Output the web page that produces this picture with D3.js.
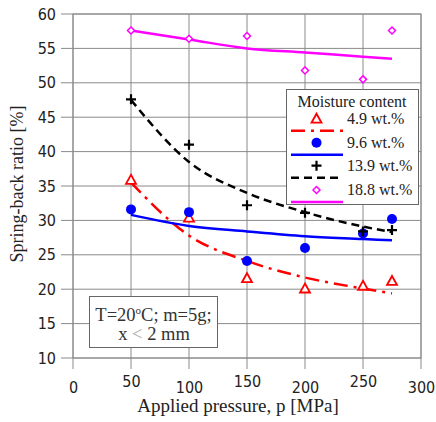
<!DOCTYPE html>
<html><head><meta charset="utf-8">
<script src="https://cdn.jsdelivr.net/npm/d3@7"></script>
<style>body{margin:0;background:#fff}svg{display:block}</style>
</head><body>
<script>
// ---- data ----
const pressures = [50, 100, 150, 200, 250, 275];
const s49  = [35.9, 30.4, 21.6, 20.1, 20.5, 21.2];
const s96  = [31.6, 31.2, 24.1, 26.0, 28.1, 30.2];
const s139 = [47.6, 41.0, 32.2, 31.1, 28.4, 28.6];
const s188 = [57.6, 56.4, 56.8, 51.8, 50.5, 57.6];
// trend curves
const fit49  = [35.5, 27.8, 24.1, 21.7, 20.1, 19.4];
const fit96  = [30.8, 29.2, 28.4, 27.7, 27.3, 27.1];
const fit139 = [47.5, 38.5, 34.0, 31.2, 29.1, 28.3];
const fit188 = [57.6, 56.3, 55.0, 54.4, 53.8, 53.5];
const seriesNames = ["4.9 wt.%", "9.6 wt.%", "13.9 wt.%", "18.8 wt.%"];
const xTicks = [0, 50, 100, 150, 200, 250, 300];
const yTicks = [10, 15, 20, 25, 30, 35, 40, 45, 50, 55, 60];

const W = 436, H = 422;
const L = 73, R = 421, T = 14, B = 358;
const svg = d3.select("body").append("svg").attr("width", W).attr("height", H);
const x = d3.scaleLinear().domain([0, 300]).range([L, R]);
const y = d3.scaleLinear().domain([10, 60]).range([B, T]);
const tickFont = "DejaVu Sans Condensed, DejaVu Sans";
const serif = "Liberation Serif";

// grid
const g = svg.append("g");
g.selectAll(".vg").data(xTicks).join("line")
  .attr("x1", d => x(d)).attr("x2", d => x(d)).attr("y1", T).attr("y2", B + 11)
  .attr("stroke", "#8a8a8a").attr("stroke-width", 1);
g.selectAll(".hg").data(yTicks).join("line")
  .attr("x1", L - 12).attr("x2", R).attr("y1", d => y(d)).attr("y2", d => y(d))
  .attr("stroke", "#8a8a8a").attr("stroke-width", 1);
svg.append("rect").attr("x", L).attr("y", T).attr("width", R - L).attr("height", B - T)
  .attr("fill", "none").attr("stroke", "#8a8a8a");

// axes labels (via d3 axes, domain hidden)
const yAx = svg.append("g").attr("transform", `translate(${L - 12},0)`)
  .call(d3.axisLeft(y).tickValues(yTicks).tickSize(0).tickPadding(5));
yAx.select(".domain").remove();
yAx.selectAll("text").attr("font-family", tickFont).attr("font-size", 16).attr("fill", "#222");
const xAx = svg.append("g").attr("transform", `translate(0,${B + 11})`)
  .call(d3.axisBottom(x).tickValues(xTicks).tickSize(0).tickPadding(0));
xAx.select(".domain").remove();
xAx.selectAll("text").attr("font-family", tickFont).attr("font-size", 16).attr("fill", "#222")
  .attr("y", 0).attr("dy", d => (d % 100 === 50 ? 17.5 : 23.5));

svg.append("text").attr("x", 238).attr("y", 412).attr("text-anchor", "middle")
  .attr("font-family", serif).attr("font-size", 19).attr("fill", "#222")
  .text("Applied pressure, p [MPa]");
svg.append("text").attr("transform", `translate(23,184) rotate(-90)`)
  .attr("text-anchor", "middle").attr("font-family", serif).attr("font-size", 18).attr("fill", "#222")
  .text("Spring-back ratio [%]");

// annotation box
svg.append("rect").attr("x", 89.5).attr("y", 296.5).attr("width", 128).attr("height", 51)
  .attr("fill", "#fff").attr("stroke", "#666");
const ann = svg.append("text").attr("x", 153.5).attr("y", 321).attr("text-anchor", "middle")
  .attr("font-family", serif).attr("font-size", 18.5).attr("fill", "#333");
ann.append("tspan").text("T=20");
ann.append("tspan").attr("font-size", 11).attr("dy", -7).text("o");
ann.append("tspan").attr("dy", 7).text("C; m=5g;");
const ann2 = svg.append("text").attr("x", 154).attr("y", 340).attr("text-anchor", "middle")
  .attr("font-family", serif).attr("font-size", 18.5).attr("fill", "#333");
ann2.append("tspan").text("x ");
ann2.append("tspan").attr("fill", "#aaa").text("<");
ann2.append("tspan").text(" 2 mm");

// series definitions
const series = [
  {vals: s49, fit: fit49, color: "#ff0000", dash: "14,6,3,6", marker: "tri"},
  {vals: s96, fit: fit96, color: "#0000ff", dash: null, marker: "dot"},
  {vals: s139, fit: fit139, color: "#000000", dash: "8,5", marker: "plus"},
  {vals: s188, fit: fit188, color: "#ff00ff", dash: null, marker: "dia"}
];
const line = d3.line().x(d => x(d[0])).y(d => y(d[1])).curve(d3.curveMonotoneX);

function drawMarker(sel, type, color, cx, cy) {
  if (type === "tri") {
    sel.append("path").attr("d", `M${cx},${cy - 5}L${cx + 5},${cy + 4}L${cx - 5},${cy + 4}Z`)
      .attr("fill", "#fff").attr("stroke", color).attr("stroke-width", 1.8);
  } else if (type === "dot") {
    sel.append("circle").attr("cx", cx).attr("cy", cy).attr("r", 5).attr("fill", color);
  } else if (type === "plus") {
    sel.append("path").attr("d", `M${cx - 5},${cy}H${cx + 5}M${cx},${cy - 5}V${cy + 5}`)
      .attr("stroke", color).attr("stroke-width", 2.2);
  } else {
    sel.append("path").attr("d", `M${cx},${cy - 3.5}L${cx + 3.5},${cy}L${cx},${cy + 3.5}L${cx - 3.5},${cy}Z`)
      .attr("fill", "#fff").attr("stroke", color).attr("stroke-width", 1.5);
  }
}

const plot = svg.append("g");
series.forEach(s => {
  plot.append("path").datum(pressures.map((p, i) => [p, s.fit[i]]))
    .attr("d", line).attr("fill", "none").attr("stroke", s.color).attr("stroke-width", 2.5)
    .attr("stroke-dasharray", s.dash);
});
series.forEach(s => {
  pressures.forEach((p, i) => drawMarker(plot, s.marker, s.color, x(p), y(s.vals[i])));
});

// legend
const lg = svg.append("g");
lg.append("rect").attr("x", 286.5).attr("y", 89.5).attr("width", 132).attr("height", 115)
  .attr("fill", "#fff").attr("stroke", "#666");
lg.append("text").attr("x", 352).attr("y", 107).attr("text-anchor", "middle")
  .attr("font-family", serif).attr("font-size", 16).attr("fill", "#222").text("Moisture content");
const rowY = [118.7, 142.7, 165.7, 190];
series.forEach((s, i) => {
  drawMarker(lg, s.marker, s.color, 316.5, rowY[i]);
  lg.append("line").attr("x1", 291).attr("x2", 343).attr("y1", rowY[i] + 12).attr("y2", rowY[i] + 12)
    .attr("stroke", s.color).attr("stroke-width", 2.5).attr("stroke-dasharray", s.dash);
  lg.append("text").attr("x", 347).attr("y", rowY[i] + 5)
    .attr("font-family", serif).attr("font-size", 16).attr("fill", "#222").text(seriesNames[i]);
});
</script>
</body></html>
